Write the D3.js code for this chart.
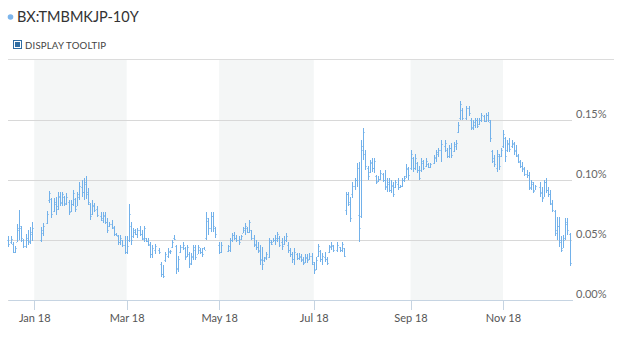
<!DOCTYPE html>
<html><head><meta charset="utf-8">
<script src="https://cdn.jsdelivr.net/npm/d3@7"></script>
<style>
body{margin:0;background:#fff}
svg{display:block;font-family:Lato,'Open Sans',sans-serif}
</style>
</head><body>
<svg id="chart" width="622" height="340"></svg>
<script>
// ---------- data ----------
const title = "BX:TMBMKJP-10Y";
const checkboxLabel = "DISPLAY TOOLTIP";
const firstDay = "2017-12-14";
const lastDay = "2018-12-14";
const tickMonths = ["2018-01","2018-03","2018-05","2018-07","2018-09","2018-11"];
const bandMonths = [["2018-01","2018-03"],["2018-05","2018-07"],["2018-09","2018-11"]];
const yTicks = [0, 0.05, 0.10, 0.15];
// yields in %, one entry per weekday (null = market holiday)
const open = [.050,.048,.047,.040,.048,.058,.060,.050,.045,.050,.049,.055,
 null,null,null,.050,.056,null,
 .064,.083,.084,.074,.080,.078,.086,.082,.086,.081,.082,.074,.080,.084,.078,.086,.094,.090,.097,.090,.080,.072,.078,.076,
 null,
 .070,.067,.070,.065,.062,.063,.060,.055,.053,.048,.050,.046,.040,.050,.062,.053,.057,.055,.058,.055,.051,.052,.049,.046,.038,.042,
 null,
 .042,.030,.022,.033,.037,.040,.044,.052,.045,.027,.040,.044,.043,.037,.038,.031,.036,.042,.038,.042,.040,.043,.052,.066,.060,.070,.060,
 null,
 .046,.040,null,null,
 .041,.042,.050,.054,.052,.050,.051,.056,.058,.060,.057,.058,.052,.047,.044,.042,.034,.033,.036,.036,.048,.048,.050,.050,.052,.048,.047,.050,.046,.042,.038,.034,.038,.035,.036,.034,.032,.035,.034,.037,.030,.026,.037,.041,.034,.036,.034,.040,.044,.045,
 null,
 .042,.044,.042,.043,.075,.088,.080,.088,.095,.100,.071,.070,.125,.122,.110,.107,.114,.110,.103,.099,.101,.105,.100,.094,.097,.092,.095,.094,.097,.094,.095,.100,.103,.109,.110,.118,.110,.114,.108,.108,.114,.112,.113,.111,
 null,
 .114,.118,.122,.125,
 null,
 .128,.125,.120,.127,.124,.128,.140,.152,.158,
 null,
 .152,.160,.150,.143,.146,.150,.147,.150,.153,.149,.154,.148,.124,.118,.110,.120,.120,.128,.135,.125,.130,.128,.130,.125,.120,.115,.112,.110,.105,.104,.093,.097,.092,
 null,
 .094,.090,.086,.098,.092,.088,.080,.074,.058,.062,.050,.043,.052,.065,.055];
const high = [.053,.053,.048,.045,.063,.075,.062,.051,.055,.058,.061,.065,
 null,null,null,.061,.064,null,
 .074,.091,.085,.085,.086,.090,.090,.090,.087,.089,.083,.083,.092,.085,.090,.098,.100,.102,.103,.093,.081,.083,.081,.078,
 null,
 .073,.073,.073,.068,.065,.067,.062,.056,.054,.054,.050,.053,.053,.080,.065,.060,.059,.060,.062,.058,.062,.052,.052,.048,.046,.047,
 null,
 .043,.032,.029,.040,.043,.042,.050,.054,.046,.037,.046,.048,.044,.046,.040,.039,.046,.046,.046,.043,.043,.044,.073,.068,.073,.073,.061,
 null,
 .048,.048,null,null,
 .046,.052,.056,.057,.054,.053,.054,.061,.064,.061,.067,.058,.054,.050,.048,.046,.044,.036,.040,.052,.050,.052,.054,.057,.053,.052,.053,.056,.048,.043,.040,.043,.039,.039,.038,.036,.038,.038,.039,.039,.032,.036,.047,.042,.039,.040,.036,.046,.048,.046,
 null,
 .048,.044,.048,.043,.090,.090,.086,.098,.102,.114,.115,.133,.143,.125,.112,.117,.118,.118,.104,.103,.108,.106,.108,.102,.102,.100,.098,.100,.102,.096,.102,.103,.113,.111,.125,.119,.122,.115,.112,.118,.117,.118,.114,.114,
 null,
 .121,.125,.127,.133,
 null,
 .133,.127,.129,.131,.132,.133,.148,.166,.160,
 null,
 .162,.162,.152,.150,.152,.152,.152,.156,.154,.156,.157,.150,.125,.121,.125,.122,.127,.142,.136,.133,.135,.133,.132,.129,.122,.117,.115,.111,.108,.107,.100,.098,.096,
 null,
 .098,.094,.100,.102,.094,.092,.083,.075,.069,.069,.053,.054,.068,.068,.056];
const low = [.044,.047,.039,.039,.048,.050,.048,.043,.043,.046,.047,.049,
 null,null,null,.048,.053,null,
 .063,.081,.068,.073,.071,.075,.078,.078,.078,.079,.071,.073,.078,.073,.078,.083,.086,.083,.084,.079,.067,.071,.073,.069,
 null,
 .066,.064,.063,.056,.061,.059,.053,.053,.046,.046,.044,.038,.038,.048,.046,.052,.054,.052,.053,.050,.048,.048,.045,.035,.035,.038,
 null,
 .038,.019,.018,.032,.035,.038,.043,.050,.022,.023,.039,.042,.033,.036,.027,.029,.033,.033,.038,.038,.036,.042,.050,.054,.057,.057,.052,
 null,
 .038,.039,null,null,
 .040,.040,.048,.050,.048,.046,.050,.056,.054,.056,.056,.050,.044,.042,.039,.029,.025,.032,.033,.035,.046,.048,.046,.048,.044,.042,.046,.048,.039,.036,.031,.029,.033,.033,.032,.029,.031,.031,.033,.029,.022,.025,.036,.032,.029,.032,.029,.039,.042,.040,
 null,
 .040,.040,.040,.036,.071,.078,.065,.085,.092,.094,.048,.068,.117,.108,.100,.106,.107,.106,.097,.098,.100,.098,.092,.090,.090,.089,.086,.093,.092,.093,.094,.098,.102,.100,.108,.107,.108,.106,.100,.107,.108,.111,.110,.110,
 null,
 .113,.115,.119,.115,
 null,
 .123,.118,.118,.118,.123,.125,.139,.150,.150,
 null,
 .150,.153,.142,.142,.143,.143,.146,.148,.148,.148,.148,.132,.114,.111,.107,.108,.119,.127,.115,.123,.123,.127,.121,.119,.114,.110,.107,.103,.102,.092,.092,.089,.092,
 null,
 .086,.082,.086,.089,.086,.079,.073,.053,.050,.044,.040,.043,.050,.054,.028];
const close = [.047,.051,.040,.043,.060,.062,.052,.045,.052,.048,.057,.060,
 null,null,null,.058,.062,null,
 .072,.089,.072,.082,.076,.087,.081,.088,.080,.086,.073,.080,.089,.076,.088,.095,.090,.098,.088,.082,.070,.079,.075,.071,
 null,
 .068,.071,.065,.058,.063,.061,.055,.054,.048,.052,.046,.040,.045,.072,.050,.058,.055,.058,.055,.052,.060,.049,.047,.038,.043,.045,
 null,
 .040,.022,.020,.038,.041,.041,.048,.051,.026,.034,.044,.046,.036,.044,.030,.037,.044,.036,.044,.040,.038,.042,.068,.060,.070,.062,.055,
 null,
 .040,.046,null,null,
 .045,.050,.054,.052,.050,.048,.053,.060,.062,.057,.065,.052,.046,.044,.041,.033,.030,.035,.038,.050,.047,.050,.052,.055,.046,.045,.050,.053,.042,.038,.034,.040,.035,.037,.033,.031,.036,.033,.037,.032,.025,.033,.045,.034,.037,.034,.031,.045,.046,.042,
 null,
 .046,.042,.047,.037,.088,.082,.068,.095,.100,.110,.060,.128,.140,.112,.103,.115,.110,.116,.098,.101,.106,.100,.095,.098,.092,.096,.088,.098,.094,.095,.100,.102,.110,.104,.122,.110,.118,.108,.102,.116,.110,.116,.111,.113,
 null,
 .119,.123,.125,.130,
 null,
 .131,.120,.127,.121,.130,.131,.146,.163,.152,
 null,
 .160,.156,.144,.148,.150,.145,.150,.154,.149,.154,.150,.135,.116,.113,.122,.112,.125,.138,.120,.131,.126,.131,.124,.121,.116,.112,.109,.105,.104,.094,.098,.091,.095,
 null,
 .089,.085,.098,.092,.088,.081,.075,.056,.062,.048,.042,.050,.063,.058,.031];

// ---------- build weekday categories ----------
const parse = d3.timeParse("%Y-%m-%d");
const dates = d3.timeDays(parse(firstDay), d3.timeDay.offset(parse(lastDay), 1))
  .filter(d => d.getDay() !== 0 && d.getDay() !== 6);
const rows = dates.map((d, k) => ({k, d, o: open[k], h: high[k], l: low[k], c: close[k]}))
  .filter(r => r.h != null);
const monthIndex = m => { const t = d3.timeParse("%Y-%m")(m); return dates.findIndex(d => d >= t); };

// ---------- layout ----------
const W = 622, H = 340;
const plot = {left: 8, right: 572, top: 60, bottom: 300};
const svg = d3.select("#chart");
svg.append("rect").attr("width", W).attr("height", H).attr("fill", "#fff");

const x = d3.scaleLinear().domain([-0.2, 262.1]).range([plot.left, plot.right]);
const y = d3.scaleLinear().domain([0, 0.2]).range([plot.bottom, plot.top]);

// header
svg.append("circle").attr("cx", 10.5).attr("cy", 17).attr("r", 2.8).attr("fill", "#7cb5ec");
svg.append("text").attr("x", 17).attr("y", 22).attr("font-size", 14.5).attr("fill", "#333")
  .text(title);
svg.append("rect").attr("x", 13.5).attr("y", 40.5).attr("width", 8).attr("height", 8)
  .attr("fill", "#fff").attr("stroke", "#2f6da3");
svg.append("rect").attr("x", 15).attr("y", 42).attr("width", 5).attr("height", 5).attr("fill", "#2f6da3");
svg.append("text").attr("x", 25).attr("y", 48.5).attr("font-size", 9.6).attr("fill", "#444")
  .attr("letter-spacing", 0.2).text(checkboxLabel);
svg.append("line").attr("x1", 8).attr("x2", 614).attr("y1", 59.5).attr("y2", 59.5)
  .attr("stroke", "#dcdcdc");

// alternate bands
svg.append("g").selectAll("rect").data(bandMonths).join("rect")
  .attr("x", d => x(monthIndex(d[0])))
  .attr("width", d => x(monthIndex(d[1])) - x(monthIndex(d[0])))
  .attr("y", plot.top).attr("height", plot.bottom - plot.top)
  .attr("fill", "#f4f6f6");

// y gridlines + labels (right side)
const yAxis = d3.axisRight(y).tickValues(yTicks).tickSize(-(plot.right - plot.left))
  .tickPadding(4).tickFormat(d => d.toFixed(2) + "%");
const gy = svg.append("g").attr("transform", `translate(${plot.right},0)`).call(yAxis);
gy.select(".domain").remove();
gy.selectAll(".tick line").attr("stroke", "#d8d8d8").attr("shape-rendering", "crispEdges");
gy.selectAll(".tick text").attr("font-size", 11).attr("fill", "#666")
  .attr("font-family", "Lato,'Open Sans',sans-serif").attr("dy", -3)
  .attr("dominant-baseline", "auto");

// x axis
const ticks = tickMonths.map(monthIndex);
const fmt = d3.timeFormat("%b %y");
const xAxis = d3.axisBottom(x).tickValues(ticks).tickSize(10).tickSizeOuter(0).tickPadding(4)
  .tickFormat(k => fmt(dates[k]));
const gx = svg.append("g").attr("transform", `translate(0,${plot.bottom})`).call(xAxis);
gx.select(".domain").attr("stroke", "#c6d4e2").attr("shape-rendering", "crispEdges");
gx.selectAll(".tick line").attr("stroke", "#c6d4e2").attr("shape-rendering", "crispEdges");
gx.selectAll(".tick text").attr("font-size", 11).attr("fill", "#555")
  .attr("font-family", "Lato,'Open Sans',sans-serif");

// OHLC bars
const barColor = "#72b1ea";
const gb = svg.append("g").attr("shape-rendering", "crispEdges");
const bar = gb.selectAll("g").data(rows).join("g");
bar.append("rect")
  .attr("x", r => Math.round(x(r.k)))
  .attr("y", r => Math.round(y(r.h)))
  .attr("width", 1)
  .attr("height", r => Math.max(1, Math.round(y(r.l)) - Math.round(y(r.h))))
  .attr("fill", barColor);
bar.append("rect")
  .attr("x", r => Math.round(x(r.k)) - 1)
  .attr("y", r => Math.round(y(r.o)))
  .attr("width", 1).attr("height", 1)
  .attr("fill", barColor).attr("opacity", 0.6);
bar.append("rect")
  .attr("x", r => Math.round(x(r.k)) + 1)
  .attr("y", r => Math.round(y(r.c)))
  .attr("width", 1).attr("height", 1)
  .attr("fill", barColor).attr("opacity", 0.6);
</script>
</body></html>
